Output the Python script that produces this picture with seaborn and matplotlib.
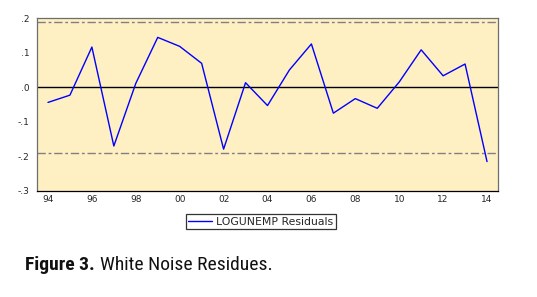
import matplotlib
matplotlib.use("Agg")
import matplotlib.pyplot as plt
import seaborn as sns
import pandas as pd
import numpy as np
from matplotlib import font_manager

years = list(range(1994, 2015))
residuals = [-0.044, -0.023, 0.116, -0.170, 0.011, 0.144, 0.118, 0.069, -0.179, 0.013,
             -0.053, 0.050, 0.125, -0.075, -0.033, -0.061, 0.015, 0.108, 0.033, 0.067, -0.215]
band = 0.189
ytick_vals = [0.2, 0.1, 0.0, -0.1, -0.2, -0.3]
ytick_labels = [".2", ".1", ".0", "-.1", "-.2", "-.3"]
xlabel_years = list(range(1994, 2015, 2))
xlabel_texts = ["94", "96", "98", "00", "02", "04", "06", "08", "10", "12", "14"]
series_name = "LOGUNEMP Residuals"

df = pd.DataFrame({"year": years, "resid": residuals})

sns.set_style("white")
plt.rcParams["font.family"] = ["DejaVu Sans"]

fig = plt.figure(figsize=(5.37, 2.97), dpi=100)
ax = fig.add_axes([37/537, 1-191/297, (498-37)/537, (191-18)/297])
ax.set_facecolor("#FEF0C2")

ax.axhline(0, color="black", lw=1.0, zorder=2)
for b in (band, -band):
    ax.axhline(b, color="#808080", lw=1.0, dashes=(6, 2, 2, 2), zorder=2)

sns.lineplot(data=df, x="year", y="resid", ax=ax, color="#0000FF", lw=1.0,
             label=series_name, zorder=3)

ax.set_xlim(1993.5, 2014.5)
ax.set_ylim(-0.3, 0.2)
ax.set_xlabel("")
ax.set_ylabel("")

ax.set_yticks(ytick_vals)
ax.set_yticklabels(ytick_labels)
ax.set_xticks([y + 0.5 for y in years[:-1]])
ax.set_xticklabels([])
ax.set_xticks(xlabel_years, minor=True)
ax.set_xticklabels(xlabel_texts, minor=True)
ax.tick_params(axis="x", which="major", direction="out", length=3, width=0.8, color="black")
ax.tick_params(axis="x", which="minor", length=0, labelsize=6.5, pad=3)
ax.tick_params(axis="y", direction="out", length=4, width=0.8, labelsize=6.5, pad=1.5, color="black")

for s in ["top", "right", "left"]:
    ax.spines[s].set_color("#6E6E6E")
    ax.spines[s].set_linewidth(0.9)
ax.spines["bottom"].set_color("black")
ax.spines["bottom"].set_linewidth(0.9)

leg = ax.legend(loc="upper center", bbox_to_anchor=(0.485, -0.135), frameon=True,
                fontsize=7.8, handlelength=2.2, borderpad=0.2, fancybox=False,
                edgecolor="black", handletextpad=0.45, borderaxespad=0)
leg.get_frame().set_linewidth(0.9)

names = {f.name for f in font_manager.fontManager.ttflist}
cap_family = [n for n in ["Roboto Condensed", "Liberation Sans Narrow", "Roboto", "DejaVu Sans"] if n in names][:1] + ["DejaVu Sans"]
renderer = fig.canvas.get_renderer()
target_w = 274 - 25
size = 14
for _ in range(6):
    t1 = fig.text(25/537, 1-270/297, "Figure 3.", fontsize=size, fontweight="bold",
                  family=cap_family, va="baseline", ha="left", color="#111111")
    bb = t1.get_window_extent(renderer)
    x_next = bb.x1 + 5
    t2 = fig.text(x_next / fig.bbox.width, 1-270/297, "White Noise Residues.", fontsize=size,
                  family=cap_family, va="baseline", ha="left", color="#111111")
    bb2 = t2.get_window_extent(renderer)
    w = bb2.x1 - bb.x0
    if abs(w - target_w) < 3:
        break
    t1.remove(); t2.remove()
    size = size * target_w / w

fig.savefig("out.png", dpi=100)
